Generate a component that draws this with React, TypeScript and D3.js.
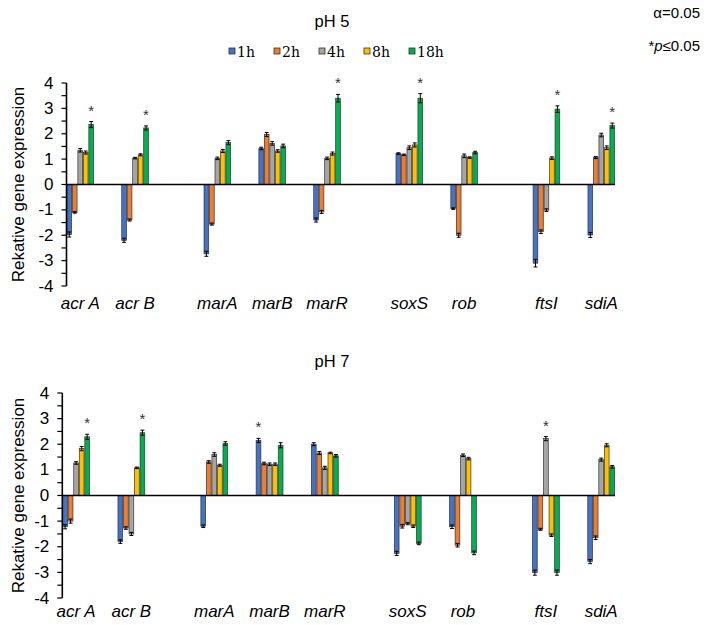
import React from "react";
import * as d3 from "d3";

const categories = ["acr A", "", "acr B", "", "", "marA", "", "marB", "", "marR", "", "", "soxS", "", "rob", "", "", "ftsI", "", "sdiA"];
const genes = ["acr A", "acr B", "marA", "marB", "marR", "soxS", "rob", "ftsI", "sdiA"];
const times = ["1h", "2h", "4h", "8h", "18h"];
const colors = ["#4472C4", "#ED7D31", "#A5A5A5", "#FFC000", "#00B050"];
const yTicks = [-4, -3, -2, -1, 0, 1, 2, 3, 4];

// pH 5
const ph5_1h = [-1.97, -2.2, -2.73, 1.42, -1.4, 1.22, -0.95, -3.1, -1.99];
const ph5_2h = [-1.1, -1.4, -1.56, 1.97, -1.08, 1.17, -2.0, -1.86, 1.06];
const ph5_4h = [1.35, 1.04, 1.03, 1.62, 1.03, 1.45, 1.13, -1.01, 1.95];
const ph5_8h = [1.26, 1.17, 1.32, 1.32, 1.22, 1.56, 1.06, 1.04, 1.45];
const ph5_18h = [2.36, 2.23, 1.65, 1.52, 3.4, 3.4, 1.26, 2.97, 2.32];
const ph5_err_1h = [0.1, 0.08, 0.1, 0.05, 0.08, 0.03, 0.03, 0.15, 0.1];
const ph5_err_2h = [0.03, 0.04, 0.04, 0.08, 0.06, 0.03, 0.08, 0.07, 0.04];
const ph5_err_4h = [0.07, 0.03, 0.05, 0.07, 0.05, 0.07, 0.07, 0.05, 0.07];
const ph5_err_8h = [0.06, 0.04, 0.06, 0.05, 0.06, 0.08, 0.03, 0.05, 0.07];
const ph5_err_18h = [0.12, 0.08, 0.08, 0.07, 0.15, 0.18, 0.05, 0.13, 0.1];
const ph5_star = [4, 4, null, null, 4, 4, null, 4, 4];

// pH 7
const ph7_1h = [-1.22, -1.8, -1.2, 2.15, 2.0, -2.26, -1.22, -3.01, -2.58];
const ph7_2h = [-1.0, -1.27, 1.31, 1.25, 1.66, -1.2, -1.94, -1.32, -1.65];
const ph7_4h = [1.27, -1.5, 1.6, 1.22, 1.08, -1.1, 1.57, 2.22, 1.4];
const ph7_8h = [1.83, 1.08, 1.18, 1.22, 1.66, -1.2, 1.44, -1.55, 1.96];
const ph7_18h = [2.29, 2.45, 2.03, 1.96, 1.55, -1.87, -2.24, -3.01, 1.12];
const ph7_err_1h = [0.08, 0.07, 0.05, 0.08, 0.06, 0.08, 0.07, 0.1, 0.08];
const ph7_err_2h = [0.08, 0.05, 0.05, 0.05, 0.06, 0.07, 0.07, 0.04, 0.07];
const ph7_err_4h = [0.05, 0.06, 0.07, 0.05, 0.06, 0.04, 0.05, 0.08, 0.06];
const ph7_err_8h = [0.08, 0.03, 0.04, 0.05, 0.03, 0.05, 0.05, 0.05, 0.06];
const ph7_err_18h = [0.1, 0.1, 0.07, 0.1, 0.05, 0.05, 0.07, 0.1, 0.05];
const ph7_star = [4, 4, null, 0, null, null, null, 2, null];

type PanelProps = {
  title: string;
  titleY: number;
  values: number[][];
  errors: number[][];
  stars: (number | null)[];
  x0: number;
  x1: number;
  yTop: number;
  yBot: number;
  labelY: number;
};

const Panel = ({ title, titleY, values, errors, stars, x0, x1, yTop, yBot, labelY }: PanelProps) => {
  const x = d3.scaleBand<string>().domain(categories.map((_, i) => String(i))).range([x0, x1]).padding(0);
  const y = d3.scaleLinear().domain([-4, 4]).range([yBot, yTop]);
  const sub = d3.scaleBand<string>().domain(times).range([0, x.bandwidth()]).padding(0);
  const minor = d3.range(-4, 4.01, 0.5);
  const font = "Arial, 'Liberation Sans', sans-serif";
  return (
    <g>
      <text x={332} y={titleY} textAnchor="middle" fontFamily={font} fontSize={16.5} fill="#000">{title}</text>
      <text transform={`translate(20,${(yTop + yBot) / 2}) rotate(-90)`} textAnchor="middle" dominantBaseline="middle" fontFamily={font} fontSize={17} fill="#000">Rekative gene expression</text>
      {minor.map((t) => (
        <line key={"mt" + t} x1={x0 - 5} x2={x0} y1={y(t)} y2={y(t)} stroke="#000" strokeWidth={1.2} />
      ))}
      {yTicks.map((t) => (
        <text key={"yl" + t} x={x0 - 13} y={y(t)} textAnchor="end" dominantBaseline="central" fontFamily={font} fontSize={17} fill="#000">{t}</text>
      ))}
      {genes.map((g, gi) => {
        const cx = x(String(categories.indexOf(g)))!;
        return (
          <g key={g}>
            {times.map((t, si) => {
              const v = values[si][gi];
              const e = errors[si][gi];
              const bx = cx + sub(t)!;
              const bw = sub.bandwidth();
              const ytop = Math.min(y(v), y(0));
              const h = Math.abs(y(v) - y(0));
              const ye = v >= 0 ? y(v + e) : y(v - e);
              const ye2 = v >= 0 ? y(v - e) : y(v + e);
              return (
                <g key={t}>
                  <rect x={bx + 0.4} y={ytop} width={bw - 0.8} height={h} fill={colors[si]} stroke="#333" strokeWidth={0.7} />
                  <line x1={bx + bw / 2} x2={bx + bw / 2} y1={ye} y2={ye2} stroke="#000" strokeWidth={1} />
                  <line x1={bx + 0.8} x2={bx + bw - 0.8} y1={ye} y2={ye} stroke="#000" strokeWidth={1} />
                  <line x1={bx + 0.8} x2={bx + bw - 0.8} y1={ye2} y2={ye2} stroke="#000" strokeWidth={1} />
                </g>
              );
            })}
            {stars[gi] !== null && (() => {
              const si = stars[gi] as number;
              const bx = cx + sub(times[si])! + sub.bandwidth() / 2;
              const top = y(values[si][gi] + errors[si][gi]) - 14;
              return (
                <text x={bx} y={top + 8} textAnchor="middle" fontFamily={font} fontSize={15} fill="#333">*</text>
              );
            })()}
            <text x={cx + x.bandwidth() / 2} y={labelY} textAnchor="middle" fontFamily={font} fontStyle="italic" fontSize={17} fill="#000">{g}</text>
          </g>
        );
      })}
      <line x1={x0} x2={x1} y1={y(0)} y2={y(0)} stroke="#000" strokeWidth={1.6} />
      <line x1={x0} x2={x0} y1={yTop} y2={yBot} stroke="#000" strokeWidth={1.6} />
    </g>
  );
};

export default function App() {
  const font = "Arial, 'Liberation Sans', sans-serif";
  return (
    <svg width={708} height={625} style={{ position: "absolute", left: 0, top: 0 }}>
      <rect width={708} height={625} fill="#fff" />
      <text x={700} y={18} textAnchor="end" fontFamily={font} fontSize={15}>α=0.05</text>
      <text x={700} y={51} textAnchor="end" fontFamily={font} fontSize={15}>*<tspan fontStyle="italic">p</tspan>≤0.05</text>
      {times.map((t, i) => (
        <g key={t}>
          <rect x={229 + i * 45} y={48} width={6} height={6} fill={colors[i]} stroke="#333" strokeWidth={0.8} />
          <text x={237 + i * 45} y={56.5} fontFamily="'DejaVu Serif', 'Liberation Serif', serif" fontSize={14} fill="#000">{t}</text>
        </g>
      ))}
      <Panel title="pH 5" titleY={27} values={[ph5_1h, ph5_2h, ph5_4h, ph5_8h, ph5_18h]} errors={[ph5_err_1h, ph5_err_2h, ph5_err_4h, ph5_err_8h, ph5_err_18h]} stars={ph5_star} x0={66.5} x1={615} yTop={83} yBot={286} labelY={309} />
      <Panel title="pH 7" titleY={367} values={[ph7_1h, ph7_2h, ph7_4h, ph7_8h, ph7_18h]} errors={[ph7_err_1h, ph7_err_2h, ph7_err_4h, ph7_err_8h, ph7_err_18h]} stars={ph7_star} x0={62.3} x1={615} yTop={393} yBot={598} labelY={617} />
    </svg>
  );
}
